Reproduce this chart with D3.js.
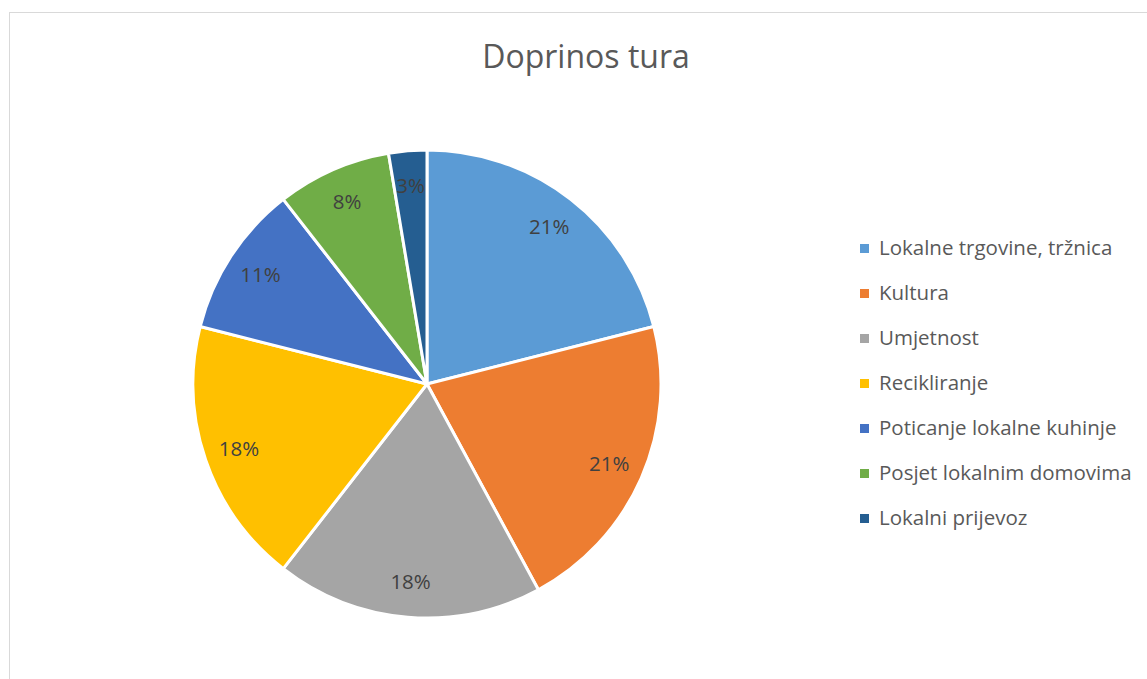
<!DOCTYPE html>
<html>
<head>
<meta charset="utf-8">
<script src="https://cdn.jsdelivr.net/npm/d3@7"></script>
<style>
  html, body { margin: 0; padding: 0; background: #fff; }
  svg { display: block; }
  text { font-family: "Open Sans", "Noto Sans", sans-serif; }
</style>
</head>
<body>
<svg id="chart" width="1147" height="679"></svg>
<script>
// Tour contribution by category (response counts)
const categories = [
  "Lokalne trgovine, tržnica",
  "Kultura",
  "Umjetnost",
  "Recikliranje",
  "Poticanje lokalne kuhinje",
  "Posjet lokalnim domovima",
  "Lokalni prijevoz"
];
const counts = [8, 8, 7, 7, 4, 3, 1];
const colors = ["#5B9BD5", "#ED7D31", "#A5A5A5", "#FFC000", "#4472C4", "#70AD47", "#255E91"];
const title = "Doprinos tura";

const svg = d3.select("#chart");
const W = 1147, H = 679;

// chart area frame (open at the right and bottom edges of the page)
svg.append("rect")
  .attr("x", 9.5).attr("y", 12.5)
  .attr("width", W + 20).attr("height", H + 20)
  .attr("fill", "#fff")
  .attr("stroke", "#D9D9D9")
  .attr("stroke-width", 1);

svg.append("text")
  .attr("x", 586).attr("y", 68)
  .attr("text-anchor", "middle")
  .attr("fill", "#595959")
  .style("font-size", "32px")
  .text(title);

const cx = 427, cy = 384, R = 234;
const total = d3.sum(counts);
const data = categories.map((c, i) => ({ name: c, value: counts[i], color: colors[i] }));

const pie = d3.pie().value(d => d.value).sort(null);
const arcs = pie(data);
const arc = d3.arc().innerRadius(0).outerRadius(R);
const labelArc = d3.arc().innerRadius(R * 0.85).outerRadius(R * 0.85);

const g = svg.append("g").attr("transform", `translate(${cx},${cy})`);

g.selectAll("path.slice")
  .data(arcs)
  .join("path")
  .attr("class", "slice")
  .attr("d", arc)
  .attr("fill", d => d.data.color)
  .attr("stroke", "#fff")
  .attr("stroke-width", 3)
  .attr("stroke-linejoin", "round");

const pct = d3.format(".0%");
g.selectAll("text.lbl")
  .data(arcs)
  .join("text")
  .attr("class", "lbl")
  .attr("transform", d => `translate(${labelArc.centroid(d)})`)
  .attr("text-anchor", "middle")
  .attr("dy", "0.35em")
  .attr("fill", "#404040")
  .style("font-size", "20.5px")
  .text(d => pct(d.data.value / total));

// legend
const legend = svg.append("g").attr("transform", "translate(860,248)");
const rowH = 45;
const items = legend.selectAll("g.item")
  .data(data)
  .join("g")
  .attr("class", "item")
  .attr("transform", (d, i) => `translate(0,${i * rowH})`);

items.append("rect")
  .attr("x", 0).attr("y", -4)
  .attr("width", 9).attr("height", 9)
  .attr("fill", d => d.color);

items.append("text")
  .attr("x", 19).attr("y", 0)
  .attr("dy", "0.35em")
  .attr("fill", "#595959")
  .style("font-size", "20.5px")
  .text(d => d.name);
</script>
</body>
</html>
